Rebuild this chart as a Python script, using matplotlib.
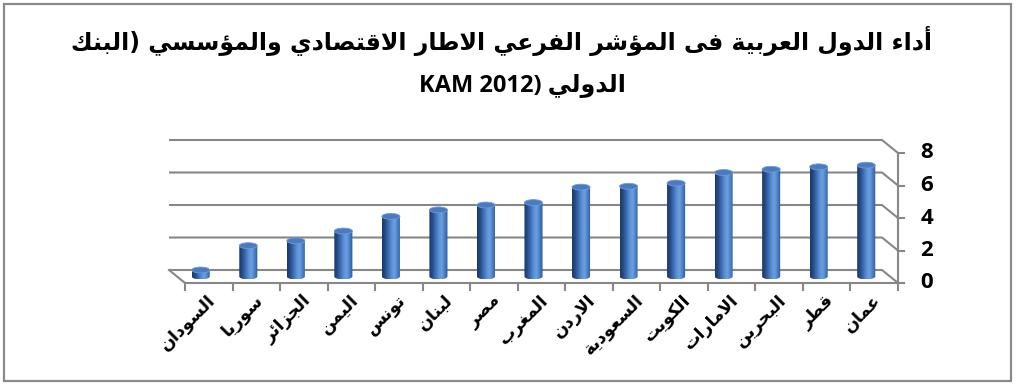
import re
import numpy as np
import matplotlib.pyplot as plt
from matplotlib.colors import LinearSegmentedColormap
from matplotlib.patches import Ellipse, PathPatch, Rectangle
from matplotlib.path import Path

# بيانات المؤشر الفرعي (الاطار الاقتصادي والمؤسسي) KAM 2012
countries = ["السودان", "سوريا", "الجزائر", "اليمن", "تونس", "لبنان", "مصر",
             "المغرب", "الاردن", "السعودية", "الكويت", "الامارات", "البحرين",
             "قطر", "عمان"]
scores = [0.4, 1.9, 2.2, 2.8, 3.7, 4.1, 4.4, 4.55, 5.5, 5.55, 5.75, 6.4,
          6.6, 6.75, 6.85]
yticks = [0, 2, 4, 6, 8]
title_lines = ["أداء الدول العربية فى المؤشر الفرعي الاطار الاقتصادي والمؤسسي (البنك",
               "الدولي (KAM 2012"]

# matplotlib لا يدعم تشكيل الحروف العربية، لذلك نحولها لأشكال العرض يدويا
_FORMS = {
    'ء': (0xFE80, 1), 'آ': (0xFE81, 2), 'أ': (0xFE83, 2), 'ؤ': (0xFE85, 2),
    'إ': (0xFE87, 2), 'ئ': (0xFE89, 4), 'ا': (0xFE8D, 2), 'ب': (0xFE8F, 4),
    'ة': (0xFE93, 2), 'ت': (0xFE95, 4), 'ث': (0xFE99, 4), 'ج': (0xFE9D, 4),
    'ح': (0xFEA1, 4), 'خ': (0xFEA5, 4), 'د': (0xFEA9, 2), 'ذ': (0xFEAB, 2),
    'ر': (0xFEAD, 2), 'ز': (0xFEAF, 2), 'س': (0xFEB1, 4), 'ش': (0xFEB5, 4),
    'ص': (0xFEB9, 4), 'ض': (0xFEBD, 4), 'ط': (0xFEC1, 4), 'ظ': (0xFEC5, 4),
    'ع': (0xFEC9, 4), 'غ': (0xFECD, 4), 'ف': (0xFED1, 4), 'ق': (0xFED5, 4),
    'ك': (0xFED9, 4), 'ل': (0xFEDD, 4), 'م': (0xFEE1, 4), 'ن': (0xFEE5, 4),
    'ه': (0xFEE9, 4), 'و': (0xFEED, 2), 'ى': (0xFEEF, 2), 'ي': (0xFEF1, 4),
}
_LAM_ALEF = {'آ': 0xFEF5, 'أ': 0xFEF7, 'إ': 0xFEF9, 'ا': 0xFEFB}


def shape(text):
    units = []
    i = 0
    while i < len(text):
        if text[i] == 'ل' and i + 1 < len(text) and text[i + 1] in _LAM_ALEF:
            units.append(('LA', text[i + 1]))
            i += 2
        else:
            units.append(('C', text[i]))
            i += 1

    def joins_next(u):
        return u[0] == 'C' and u[1] in _FORMS and _FORMS[u[1]][1] == 4

    def joinable(u):
        return u[0] == 'LA' or (u[1] in _FORMS and _FORMS[u[1]][1] > 1)

    out = []
    for k, u in enumerate(units):
        prev_j = k > 0 and joins_next(units[k - 1]) and joinable(u)
        next_j = k + 1 < len(units) and joins_next(u) and joinable(units[k + 1])
        if u[0] == 'LA':
            out.append(chr(_LAM_ALEF[u[1]] + (1 if prev_j else 0)))
            continue
        if u[1] not in _FORMS:
            out.append(u[1])
            continue
        base, n = _FORMS[u[1]]
        if n == 1:
            form = 0
        elif n == 2:
            form = 1 if prev_j else 0
        else:
            form = {(False, False): 0, (True, False): 1,
                    (False, True): 2, (True, True): 3}[(prev_j, next_j)]
        out.append(chr(base + form))
    return ''.join(out)


def rtl(text):
    parts = re.findall(r'[A-Za-z0-9]+(?:[ .][A-Za-z0-9]+)*|.', shape(text))
    mirror = {'(': ')', ')': '('}
    return ''.join(mirror.get(p, p) for p in reversed(parts))


AR = ['DejaVu Sans']
NUM = ['Open Sans', 'DejaVu Sans']
grid_col = '#878787'

fig = plt.figure(figsize=(10.16, 3.84), dpi=100)
fig.patches.append(Rectangle((4 / 1016, 3 / 384), 1007 / 1016, 377 / 384,
                             transform=fig.transFigure, fill=False,
                             edgecolor='#8a8a8a', linewidth=1.6))

ax = fig.add_axes([185 / 1016, 101 / 384, 713 / 1016, 130 / 384])
ax.axis('off')

n = len(countries)
x0, x1 = -0.5, n - 0.5
dxb, dyb = -0.337, 0.8   # إزاحة الجدار الخلفي

# خطوط الشبكة على الجدار الخلفي
for v in yticks:
    ax.plot([x0 + dxb, x1 + dxb, x1], [v + dyb, v + dyb, v], color=grid_col,
            lw=1.5, clip_on=False, solid_capstyle='butt')
    ax.plot([x1, x1 + 0.12], [v, v], color=grid_col, lw=1.5, clip_on=False)
    ax.text(x1 + 0.6, v, str(v), ha='center', va='center', fontsize=16,
            fontweight='bold', family=NUM)
ax.plot([x0 + dxb, x0, x1], [dyb, 0, 0], color=grid_col, lw=1.5, clip_on=False)
ax.plot([x1, x1], [0, yticks[-1]], color=grid_col, lw=1.5, clip_on=False)
for b in np.arange(x0, x1 + 0.01, 1.0):
    ax.plot([b, b], [0, -0.45], color=grid_col, lw=1.5, clip_on=False)

# الأعمدة الأسطوانية
cyl = LinearSegmentedColormap.from_list(
    'cyl', ['#1d3866', '#264c88', '#3b6cb2', '#5a8fd4', '#6b9fe0', '#4b7ec4', '#2b5798'])
grad = np.linspace(0, 1, 64).reshape(1, -1)
bw, eh = 0.38, 0.36
xm, ym = dxb / 2, dyb / 2
for i, v in enumerate(scores):
    cx = i + xm
    left, right = cx - bw / 2, cx + bw / 2
    top = ym + v
    t = np.linspace(np.pi, 2 * np.pi, 30)
    arc = np.column_stack([cx + bw / 2 * np.cos(t), ym + eh / 2 * np.sin(t)])
    verts = np.vstack([[[left, top]], arc, [[right, top]], [[left, top]]])
    outline = PathPatch(Path(verts), facecolor='none', edgecolor='none')
    ax.add_patch(outline)
    img = ax.imshow(grad, cmap=cyl, aspect='auto', clip_on=True,
                    extent=(left, right, ym - eh / 2, top), zorder=3)
    img.set_clip_path(outline)
    ax.add_patch(Ellipse((cx, top), bw, eh, facecolor='#4a7bc0',
                         edgecolor='#6f9bd6', lw=0.6, zorder=4))

ax.set_xlim(x0, x1)
ax.set_ylim(0, 8)

for i, name in enumerate(countries):
    ax.text(i - 0.05, -0.5, rtl(name), rotation=45, rotation_mode='anchor',
            ha='right', va='top', fontsize=12.5, fontweight='bold', family=AR)

fig.text(0.494, 0.893, rtl(title_lines[0]), ha='center', va='center',
         fontsize=17, fontweight='bold', family=AR)
fig.text(0.514, 0.778, rtl(title_lines[1]), ha='center', va='center',
         fontsize=17, fontweight='bold', family=NUM)

fig.savefig('out.png', dpi=100)
